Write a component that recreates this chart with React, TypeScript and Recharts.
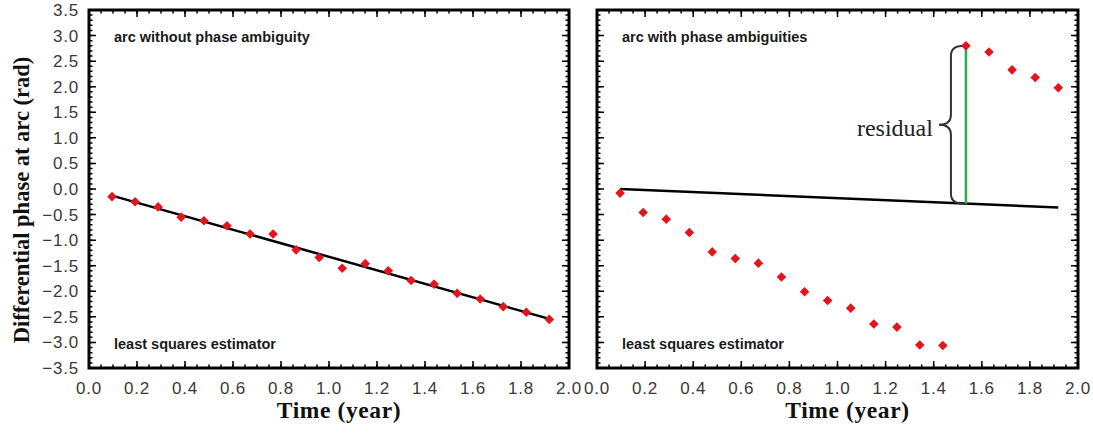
import React from "react";
import {
  ComposedChart,
  XAxis,
  YAxis,
  Scatter,
  Line,
  ReferenceLine,
  ReferenceArea,
} from "recharts";

// acquisition times (year), 35-day repeat
const times = [
  0.096, 0.192, 0.288, 0.384, 0.479, 0.575, 0.671, 0.767, 0.863, 0.959,
  1.055, 1.151, 1.247, 1.342, 1.438, 1.534, 1.63, 1.726, 1.822, 1.918,
];
// differential phase, left panel (no ambiguity)
const phaseClean = [
  -0.15, -0.25, -0.35, -0.55, -0.62, -0.72, -0.88, -0.88, -1.19, -1.34,
  -1.55, -1.46, -1.6, -1.79, -1.86, -2.04, -2.15, -2.3, -2.41, -2.55,
];
// differential phase, right panel (with ambiguities)
const phaseWrapped = [
  -0.08, -0.46, -0.59, -0.85, -1.23, -1.36, -1.45, -1.72, -2.01, -2.18,
  -2.33, -2.64, -2.7, -3.05, -3.06, 2.8, 2.68, 2.33, 2.18, 1.98,
];
// least squares fits (end points)
const fitT = [0.096, 1.918];
const fitClean = [-0.13, -2.54];
const fitWrapped = [0.0, -0.36];
// residual marker
const residualT = 1.534;
const residualFrom = -0.29;
const residualTo = 2.8;

const xTicks = [0, 0.2, 0.4, 0.6, 0.8, 1.0, 1.2, 1.4, 1.6, 1.8, 2.0];
const yTicks = [-3.5, -3, -2.5, -2, -1.5, -1, -0.5, 0, 0.5, 1, 1.5, 2, 2.5, 3, 3.5];

const steps = (a: number, b: number, s: number) => {
  const out: number[] = [];
  for (let v = a; v <= b + 1e-9; v += s) out.push(Math.round(v * 1000) / 1000);
  return out;
};
const xMinor = steps(0, 2, 0.05);
const yMinor = steps(-3.5, 3.5, 0.1);

const fmt = (v: number) => v.toFixed(1).replace("-", "\u2212");

const tickFont = {
  fontFamily: "'Liberation Sans', Arial, sans-serif",
  fontSize: 17,
  letterSpacing: 0.8,
  fill: "#3a3a3a",
};

const Diamond = (props: any) => {
  const { cx, cy } = props;
  const r = 4.8;
  return (
    <path
      d={`M${cx},${cy - r}L${cx + r},${cy}L${cx},${cy + r}L${cx - r},${cy}Z`}
      fill="#e3141c"
    />
  );
};

// inward tick stubs at both ends of a full-height/width reference line
const stub = (len: number) => (props: any) => {
  const { x1, y1, x2, y2 } = props;
  if (Math.abs(x1 - x2) < 0.5) {
    const top = Math.min(y1, y2);
    const bot = Math.max(y1, y2);
    return (
      <path
        d={`M${x1},${top}L${x1},${top + len}M${x1},${bot}L${x1},${bot - len}`}
        stroke="#000"
        strokeWidth={1.5}
      />
    );
  }
  const l = Math.min(x1, x2);
  const r = Math.max(x1, x2);
  return (
    <path
      d={`M${l},${y1}L${l + len},${y1}M${r},${y1}L${r - len},${y1}`}
      stroke="#000"
      strokeWidth={1.5}
    />
  );
};
const majorStub = stub(7);
const minorStub = stub(3.5);

const Brace = (props: any) => {
  const { x1, y1, y2 } = props;
  const top = Math.min(y1, y2);
  const bot = Math.max(y1, y2);
  const mid = (top + bot) / 2;
  const xt = x1 - 2;
  const xs = x1 - 15;
  const xp = x1 - 27;
  const r = 10;
  const d =
    `M${xt},${top}Q${xs},${top} ${xs},${top + r}` +
    `L${xs},${mid - r}Q${xs},${mid} ${xp},${mid}` +
    `Q${xs},${mid} ${xs},${mid + r}` +
    `L${xs},${bot - r}Q${xs},${bot} ${xt},${bot}`;
  return (
    <g>
      <path d={d} fill="none" stroke="#333" strokeWidth={2} />
      <text
        x={x1 - 33}
        y={mid + 11}
        textAnchor="end"
        fontFamily="'Liberation Serif', 'DejaVu Serif', serif"
        fontSize={24}
        fill="#222"
      >
        residual
      </text>
    </g>
  );
};

type PanelProps = {
  values: number[];
  fit: number[];
  width: number;
  margin: { top: number; right: number; bottom: number; left: number };
  showYLabels: boolean;
  residual?: boolean;
};

function Panel({ values, fit, width, margin, showYLabels, residual }: PanelProps) {
  const points = times.map((t, i) => ({ x: t, y: values[i] }));
  const fitLine = fitT.map((t, i) => ({ x: t, y: fit[i] }));
  return (
    <ComposedChart width={width} height={433} margin={margin}>
      <XAxis
        xAxisId="x"
        dataKey="x"
        type="number"
        domain={[0, 2]}
        allowDataOverflow
        ticks={xTicks}
        interval={0}
        tickFormatter={fmt}
        tick={tickFont}
        tickLine={false}
        tickSize={0}
        tickMargin={14}
        axisLine={false}
        height={65}
        label={{
          value: "Time (year)",
          position: "insideBottom",
          offset: 15,
          dx: 10,
          fill: "#111",
          fontSize: 23.5,
          letterSpacing: 0.6,
          fontWeight: "bold",
          fontFamily: "'Liberation Serif', 'DejaVu Serif', serif",
        }}
      />
      <YAxis
        yAxisId="y"
        dataKey="y"
        type="number"
        domain={[-3.5, 3.5]}
        allowDataOverflow
        ticks={yTicks}
        interval={0}
        tickFormatter={fmt}
        tick={tickFont}
        tickLine={false}
        tickSize={0}
        tickMargin={10}
        axisLine={false}
        width={89}
        hide={!showYLabels}
      />
      {xMinor.map((v) => (
        <ReferenceLine key={`xm${v}`} xAxisId="x" yAxisId="y" x={v} shape={minorStub} />
      ))}
      {xTicks.map((v) => (
        <ReferenceLine key={`xM${v}`} xAxisId="x" yAxisId="y" x={v} shape={majorStub} />
      ))}
      {yMinor.map((v) => (
        <ReferenceLine key={`ym${v}`} xAxisId="x" yAxisId="y" y={v} shape={minorStub} />
      ))}
      {yTicks.map((v) => (
        <ReferenceLine key={`yM${v}`} xAxisId="x" yAxisId="y" y={v} shape={majorStub} />
      ))}
      <Line
        data={fitLine}
        xAxisId="x"
        yAxisId="y"
        dataKey="y"
        type="linear"
        stroke="#000"
        strokeWidth={2.5}
        dot={false}
        isAnimationActive={false}
      />
      {residual && (
        <ReferenceLine
          xAxisId="x"
          yAxisId="y"
          segment={[
            { x: residualT, y: residualFrom },
            { x: residualT, y: residualTo },
          ]}
          stroke="#22b14c"
          strokeWidth={2.5}
        />
      )}
      {residual && (
        <ReferenceLine
          xAxisId="x"
          yAxisId="y"
          segment={[
            { x: residualT, y: residualFrom },
            { x: residualT, y: residualTo },
          ]}
          shape={(p: any) => <Brace {...p} />}
        />
      )}
      <Scatter
        data={points}
        xAxisId="x"
        yAxisId="y"
        shape={(p: any) => <Diamond {...p} />}
        isAnimationActive={false}
      />
      <ReferenceArea
        xAxisId="x"
        yAxisId="y"
        x1={0}
        x2={2}
        y1={-3.5}
        y2={3.5}
        fill="none"
        fillOpacity={0}
        stroke="#000"
        strokeWidth={3}
      />
    </ComposedChart>
  );
}

const noteFont = {
  fontFamily: "'Liberation Sans', Arial, sans-serif",
  fontSize: 14.5,
  fontWeight: "bold" as const,
  fill: "#1a1a1a",
};

export default function App() {
  return (
    <div style={{ position: "absolute", left: 0, top: 0, width: 1093, height: 433, background: "#fff" }}>
      <div style={{ position: "absolute", left: 0, top: 0 }}>
        <Panel
          values={phaseClean}
          fit={fitClean}
          width={585}
          margin={{ top: 10, right: 16, bottom: 0, left: 0 }}
          showYLabels
        />
      </div>
      <div style={{ position: "absolute", left: 560, top: 0 }}>
        <Panel
          values={phaseWrapped}
          fit={fitWrapped}
          width={533}
          margin={{ top: 10, right: 15, bottom: 0, left: 37 }}
          showYLabels={false}
          residual
        />
      </div>
      <svg
        width={1093}
        height={433}
        style={{ position: "absolute", left: 0, top: 0, pointerEvents: "none" }}
      >
        <text
          transform="translate(29,200) rotate(-90)"
          textAnchor="middle"
          fontFamily="'Liberation Serif', 'DejaVu Serif', serif"
          fontSize={22.5}
          fontWeight="bold"
          fill="#111"
        >
          Differential phase at arc (rad)
        </text>
        <text x={114} y={41.5} {...noteFont}>arc without phase ambiguity</text>
        <text x={114} y={349} {...noteFont}>least squares estimator</text>
        <text x={622} y={41.5} {...noteFont}>arc with phase ambiguities</text>
        <text x={622} y={349} {...noteFont}>least squares estimator</text>
      </svg>
    </div>
  );
}
